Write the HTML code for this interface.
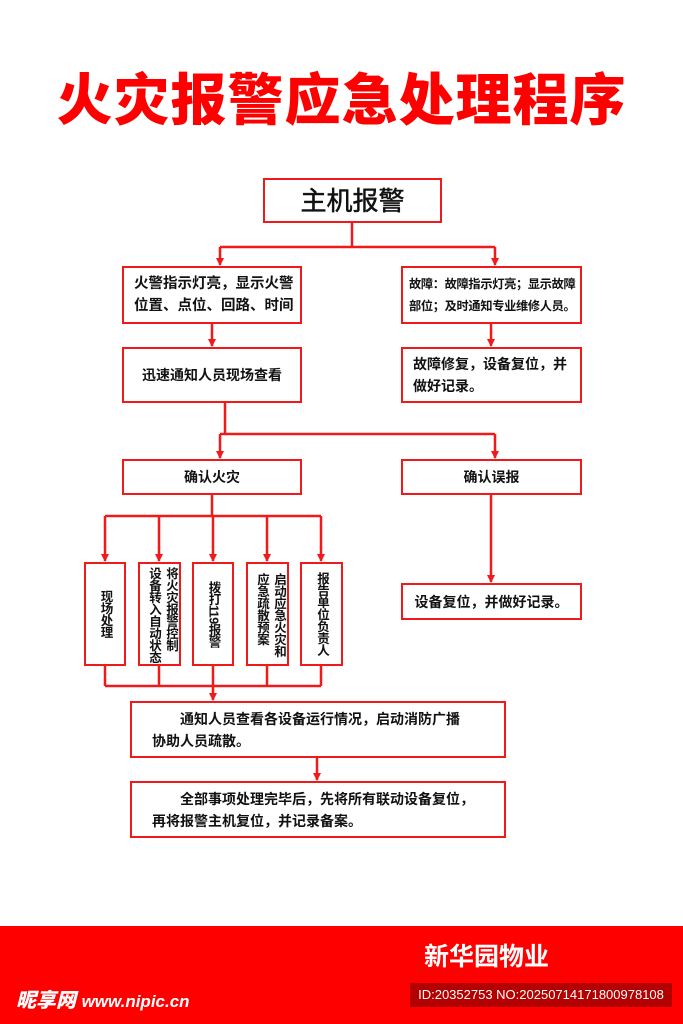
<!DOCTYPE html>
<html><head><meta charset="utf-8"><style>
*{margin:0;padding:0;box-sizing:border-box}
body{width:683px;height:1024px;background:#fff;position:relative;overflow:hidden;font-family:"Liberation Sans","Noto Sans CJK SC",sans-serif;}
.b{position:absolute;border:2px solid #f01a1a;background:#fff;color:#111;font-weight:bold;font-size:14px;line-height:22px;display:flex;align-items:center;white-space:nowrap}
.c{justify-content:center;text-align:center}
.v{writing-mode:vertical-rl;text-orientation:upright;justify-content:center;align-items:center;line-height:17px;font-size:12.5px;letter-spacing:-0.5px}
.t{position:absolute;left:0;width:683px;top:56px;text-align:center;color:#f00;font-size:56px;font-weight:900;letter-spacing:1px;}
</style></head><body>
<div class="t">火灾报警应急处理程序</div>
<svg width="683" height="1024" style="position:absolute;left:0;top:0">
<g stroke="#f01a1a" stroke-width="2.5" fill="none">
<path d="M352 222V247M220 247H495"/>
<path d="M220 247V265M495 247V265M212 323V346M491 323V346"/>
<path d="M225 402V434M220 434H495"/>
<path d="M220 434V458M495 434V458M491 494V582"/>
<path d="M212 494V516M105 516H321"/>
<path d="M105 516V561M159 516V561M213 516V561M267 516V561M321 516V561"/>
<path d="M105 665V686M159 665V686M267 665V686M321 665V686M105 686H321"/>
<path d="M213 665V700M317 757V780"/>
</g>
<g fill="#f01a1a">
<path d="M216 258h8l-4 8z"/><path d="M491 258h8l-4 8z"/>
<path d="M208 339h8l-4 8z"/><path d="M487 339h8l-4 8z"/>
<path d="M216 451h8l-4 8z"/><path d="M491 451h8l-4 8z"/>
<path d="M487 575h8l-4 8z"/>
<path d="M101 554h8l-4 8z"/><path d="M155 554h8l-4 8z"/><path d="M209 554h8l-4 8z"/><path d="M263 554h8l-4 8z"/><path d="M317 554h8l-4 8z"/>
<path d="M209 693h8l-4 8z"/><path d="M313 773h8l-4 8z"/>
</g></svg>
<div class="b c" style="left:263px;top:178px;width:179px;height:45px;font-size:26px;font-weight:normal;color:#111;-webkit-text-stroke:0.5px #111">主机报警</div>
<div class="b" style="left:122px;top:266px;width:180px;height:58px;padding-left:10px;font-size:14.5px">火警指示灯亮，显示火警<br>位置、点位、回路、时间</div>
<div class="b" style="left:401px;top:266px;width:181px;height:58px;padding-left:6px;font-size:12.2px;letter-spacing:-0.3px">故障：故障指示灯亮；显示故障<br>部位；及时通知专业维修人员。</div>
<div class="b c" style="left:122px;top:347px;width:180px;height:56px">迅速通知人员现场查看</div>
<div class="b" style="left:401px;top:347px;width:181px;height:56px;padding-left:10px">故障修复，设备复位，并<br>做好记录。</div>
<div class="b c" style="left:122px;top:459px;width:180px;height:36px">确认火灾</div>
<div class="b c" style="left:401px;top:459px;width:181px;height:36px">确认误报</div>
<div class="b c" style="left:401px;top:583px;width:181px;height:37px">设备复位，并做好记录。</div>
<div class="b v" style="left:84px;top:562px;width:42px;height:104px">现场处理</div>
<div class="b v" style="left:138px;top:562px;width:43px;height:104px;align-items:flex-start;padding-top:2px">将火灾报警控制<br>设备转入自动状态</div>
<div class="b v" style="left:192px;top:562px;width:42px;height:104px;text-orientation:mixed">拨打119报警</div>
<div class="b v" style="left:246px;top:562px;width:43px;height:104px;align-items:flex-start;padding-top:2px">启动应急火灾和<br>应急疏散预案</div>
<div class="b v" style="left:300px;top:562px;width:43px;height:104px">报告单位负责人</div>
<div class="b" style="left:130px;top:701px;width:376px;height:57px;padding-left:20px;display:block;padding-top:5px">&emsp;&emsp;通知人员查看各设备运行情况，启动消防广播<br>协助人员疏散。</div>
<div class="b" style="left:130px;top:781px;width:376px;height:57px;padding-left:20px;display:block;padding-top:5px">&emsp;&emsp;全部事项处理完毕后，先将所有联动设备复位，<br>再将报警主机复位，并记录备案。</div>
<div style="position:absolute;left:0;top:926px;width:683px;height:98px;background:#ff0000"></div>
<div style="position:absolute;left:424px;top:937px;color:#fff;font-size:25px;font-weight:bold">新华园物业</div>
<div style="position:absolute;left:410px;top:983px;width:262px;height:24px;background:#b30000;color:#fff;font-size:13px;line-height:24px;text-align:center">ID:20352753 NO:20250714171800978108</div>
<div style="position:absolute;left:16px;top:984px;color:#fff;font-size:20px;font-weight:900;font-style:italic">昵享网 <span style="font-size:17px">www.nipic.cn</span></div>
</body></html>
